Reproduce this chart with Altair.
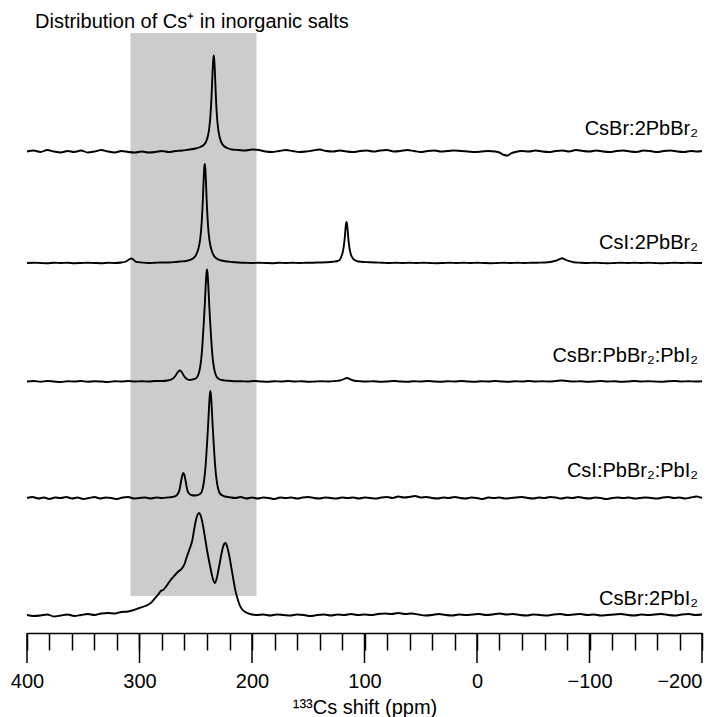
import altair as alt
import pandas as pd

# ---------------- data ----------------
TITLE = "Distribution of Cs⁺ in inorganic salts"
X_TITLE = "¹³³Cs shift (ppm)"
SAMPLES = ["CsBr:2PbBr₂", "CsI:2PbBr₂", "CsBr:PbBr₂:PbI₂", "CsI:PbBr₂:PbI₂", "CsBr:2PbI₂"]
HIGHLIGHT_PPM = [308, 196]          # shaded region (ppm)
X_DOMAIN = [-200, 400]
TICK_VALUES = list(range(-200, 401, 20))
MAJOR_TICKS = [400, 300, 200, 100, 0, -100, -200]

# (ppm, intensity) points of each spectrum
CSBR_2PBBR2 = [(400,0),(394,1),(388,-0.5),(382,1.5),(376,0),(370,-1),(364,0.5),(358,-0.5),(352,1),(346,-1),(340,0),(334,1.5),(328,0),(322,-1),(316,0.5),(310,-0.5),(304,-1),(298,0),(292,-1),(286,-0.5),(280,0.5),(274,-0.5),(268,0.5),(262,1),(256,2),(250,3),(246,4.5),(243,6.5),(241,9.5),(239,16.5),(238,23.5),(237,35),(236,54),(235,81),(234.5,91),(234,96),(233.5,91),(233,80),(232,52),(231,33),(230,22),(229,15.5),(227,8.5),(225,5.5),(222,3.5),(218,2),(212,1.5),(206,1),(200,2),(194,1.5),(188,0),(182,-0.5),(176,0.5),(170,1.5),(164,0.5),(158,-0.5),(152,0),(146,1),(140,2),(134,0.5),(128,0),(122,1),(116,0),(110,-0.5),(104,0.5),(98,1),(92,0),(86,1),(80,1.5),(74,0),(68,0.5),(62,1.5),(56,0.5),(50,-0.5),(44,0.5),(38,1),(32,0),(26,0.5),(20,1),(14,0.5),(8,0),(2,-0.5),(-4,0),(-10,0.5),(-16,0),(-20,-1),(-24,-3.5),(-27,-4),(-30,-2),(-34,-0.5),(-40,0.5),(-46,0),(-52,1),(-58,0),(-64,-0.5),(-70,0.5),(-76,1),(-82,0),(-88,1.5),(-94,0.5),(-100,0),(-106,1),(-112,0),(-118,-0.5),(-124,0.5),(-130,1),(-136,0),(-142,-0.5),(-148,1),(-154,0.5),(-160,-0.5),(-166,0.5),(-172,1),(-178,0),(-184,-0.5),(-190,0.5),(-196,0),(-200,0.5)]

CSI_2PBBR2 = [(400,0),(394,0.3),(388,0),(382,-0.3),(376,0.2),(370,0),(364,0.3),(358,-0.2),(352,0),(346,0.3),(340,0),(334,-0.2),(328,0.2),(322,0),(316,0.5),(312,1.5),(309.5,3.5),(307.5,4.5),(305.5,3.5),(303,1.2),(298,0.5),(292,0),(286,0.3),(280,0.5),(274,0.5),(268,1),(264,1.5),(260,1.8),(255,3.2),(252,5),(250,7.5),(248,13),(247,17.5),(246,24.5),(245,36),(244,55.5),(243.5,68.5),(243,83),(242.5,94.5),(242,99),(241.5,94.5),(241,83),(240.5,68.5),(240,55.5),(239,36),(238,24.5),(237,17.5),(236,13),(234,7.5),(232,5),(229,3.2),(224,1.8),(218,1),(212,0.5),(206,0.2),(200,0),(194,0.3),(188,0),(182,-0.2),(176,0.2),(170,0),(164,0.3),(158,0),(152,0.2),(146,0.3),(140,0.5),(134,0.7),(128,1.2),(124,2),(122,3.2),(120,8.2),(119,12.6),(118,20.5),(117.5,26),(117,33),(116.5,38.5),(116,41),(115.5,38.5),(115,33),(114.5,26),(114,20.5),(113,12.6),(112,8.2),(110,4.1),(107,2),(103,1.2),(96,0.8),(90,0.5),(84,0.3),(78,0),(72,0.2),(66,0),(60,0.3),(54,0),(48,0.2),(42,0),(36,-0.2),(30,0),(24,0.3),(18,0),(12,0.2),(6,0),(0,0.3),(-6,0),(-12,-0.2),(-18,0),(-24,0.2),(-30,0),(-36,0.3),(-42,0),(-48,0.2),(-54,0.3),(-60,0.5),(-65,1),(-69,2),(-72,3.2),(-74,4.2),(-75.5,4.8),(-77,4.2),(-79,3),(-82,1.8),(-86,0.8),(-92,0.3),(-98,0),(-104,0.2),(-110,0),(-116,-0.2),(-122,0),(-128,0.2),(-134,0),(-140,0.3),(-146,0),(-152,0.2),(-158,0),(-164,-0.2),(-170,0),(-176,0.2),(-182,0),(-188,0.2),(-194,0),(-200,0)]

CSBR_PBBR2_PBI2 = [(400,0),(394,0.5),(388,-0.3),(382,0.5),(376,0),(370,-0.5),(364,0.3),(358,0),(352,0.5),(346,-0.3),(340,0.3),(334,0),(328,-0.5),(322,0.3),(316,0),(310,0.5),(304,0),(298,0.3),(292,0),(286,0.5),(280,0.5),(275,1),(271,2.5),(268.5,5),(267,7.5),(265.5,10),(264,11),(262.5,9.5),(261,6.5),(259,3.5),(257,2),(255,1.5),(253,2),(250,3),(248,6),(247,9.5),(246,15),(245,24),(244,38),(243,56),(242,76),(241.5,88),(241,99),(240.5,108),(240,112),(239.5,108),(239,99),(238.5,88),(238,76),(237,56),(236,38),(235,24),(234,15),(233,9.5),(232,6),(230,3),(227,1.5),(222,0.8),(216,0.3),(210,0.3),(204,0),(198,0.5),(192,0),(186,-0.3),(180,0.3),(174,0),(168,0.5),(162,0),(156,0.3),(150,-0.3),(144,0),(138,0.3),(132,0),(126,0.5),(122,1),(119,2),(117,3.2),(115.5,3.5),(114,3),(112,1.8),(109,0.8),(104,0.3),(98,0),(92,0.3),(86,-0.3),(80,0),(74,0.5),(68,0),(62,-0.3),(56,0.3),(50,0),(44,0.5),(38,0),(32,-0.3),(26,0.3),(20,0),(14,0.5),(8,0),(2,-0.3),(-4,0.3),(-10,0),(-16,0.5),(-22,0),(-28,-0.3),(-34,0.3),(-40,0),(-46,0.5),(-52,0),(-58,0.3),(-64,0),(-70,0.5),(-75,1),(-80,0.5),(-86,0),(-92,0.3),(-98,-0.3),(-104,0),(-110,0.5),(-116,0),(-122,0.3),(-128,-0.3),(-134,0),(-140,0.5),(-146,0),(-152,0.3),(-158,0),(-164,-0.3),(-170,0.3),(-176,0.5),(-182,0),(-188,0.3),(-194,0),(-200,0.3)]

CSI_PBBR2_PBI2 = [(400,0),(395,1),(390,-0.5),(385,0.5),(380,-1),(375,0.5),(370,0),(365,1),(360,-0.5),(355,0.5),(350,-1),(345,0),(340,1),(335,-0.5),(330,0.5),(325,0),(320,-1),(315,0.5),(310,1),(305,-0.5),(300,0),(295,0.5),(290,-0.5),(285,0.5),(280,0),(275,0.5),(271,1),(268,1.8),(266,4),(264.5,8),(263.7,12.5),(263,17),(262,22.5),(261,25),(260,22.5),(259,17),(258.3,12.5),(257.5,8),(256,4.5),(254,3),(251,2.5),(249,2.8),(247,3.5),(245,5.5),(244,9),(243,14.5),(242,23),(241,36),(240,53.5),(239,73),(238.5,84),(238,95),(237.5,103),(237,107),(236.5,103),(236,95),(235.5,84),(235,73),(234,53.5),(233,36),(232,23),(231,14.5),(230,9),(229,5.5),(227,3),(224,1.5),(220,0.8),(215,0),(210,1),(205,-0.5),(200,0.5),(195,-0.5),(190,0.5),(185,0),(180,-1),(175,0.5),(170,0),(165,0.5),(160,-0.5),(155,0.5),(150,1),(145,0),(140,-0.5),(135,0.5),(130,0),(125,-0.5),(120,0.5),(115,0),(110,0.5),(105,-0.5),(100,0.5),(95,0),(90,-0.5),(85,0.5),(80,1),(75,0),(70,1.5),(65,0.5),(60,1),(55,2),(50,0.5),(45,1),(40,0),(35,-0.5),(30,0.5),(25,0),(20,1),(15,0),(10,-0.5),(5,0.5),(0,0),(-5,-1),(-10,0.5),(-15,0),(-20,0.5),(-25,-0.5),(-30,0),(-35,0.5),(-40,1),(-45,0),(-50,-0.5),(-55,0.5),(-60,0),(-65,1),(-70,0.5),(-75,-0.5),(-80,0.5),(-85,0),(-90,1),(-95,0),(-100,-0.5),(-105,0.5),(-110,0),(-115,-1),(-120,0),(-125,0.5),(-130,0),(-135,0.5),(-140,-0.5),(-145,0),(-150,0.5),(-155,0),(-160,-0.5),(-165,0.5),(-170,1),(-175,0),(-180,0.5),(-185,-0.5),(-190,0.5),(-195,1.5),(-200,0)]

CSBR_2PBI2 = [(400,0),(394,-1),(388,-0.5),(382,0.5),(376,-1.5),(370,-0.5),(364,0.5),(358,-1),(352,0),(346,1),(340,0),(334,1.5),(328,2),(322,1.5),(316,3),(310,3.5),(305,5),(300,7),(295,9),(290,12),(286,17),(283,21),(281,24),(279,25),(276,29),(273,34),(270,38),(266,43),(262,47),(260,51),(258,58),(255.5,66),(253,75),(251.5,85),(250,94),(248.5,100),(247,102),(245.5,99),(244,92),(242,79),(240,65),(238,53),(236,42),(234.5,35),(233,32),(231.5,36),(230,44),(228,56),(226,67),(224.5,71.5),(223.5,72),(222,68),(220,58),(218,45),(216,32),(214.5,23),(213,17),(211,10),(209,6),(206,3),(203,1.5),(200,0.5),(196,0),(190,0.5),(184,-0.5),(178,0.5),(172,0),(166,-0.5),(160,0.5),(154,0),(148,-1),(142,0),(136,0.5),(130,-0.5),(124,0.5),(118,0),(112,1),(106,0),(100,0.5),(94,0),(88,1),(82,1.5),(76,1),(70,2),(64,1),(58,1.5),(52,0.5),(46,-0.5),(40,0),(34,1),(28,0),(22,-0.5),(16,0.5),(10,0),(4,0.5),(-2,1),(-8,0),(-14,0.5),(-20,1.5),(-26,0.5),(-32,1),(-38,0),(-44,-0.5),(-50,0.5),(-56,0),(-62,-0.5),(-68,0.5),(-74,1),(-80,0),(-86,0.5),(-92,1),(-98,0),(-104,0.5),(-110,-0.5),(-116,0),(-122,0.5),(-128,1),(-134,0),(-140,-0.5),(-146,0.5),(-152,0),(-158,0.5),(-164,1),(-170,0),(-176,-0.5),(-182,0.5),(-188,1),(-194,0),(-200,0.5)]

TRACES = [CSBR_2PBBR2, CSI_2PBBR2, CSBR_PBBR2_PBI2, CSI_PBBR2_PBI2, CSBR_2PBI2]

# ---------------- layout (stack offsets, label lift) ----------------
OFFSETS = [481.5, 370, 251.5, 135, 18]
LABEL_LIFT = [17, 14, 20, 21, 10]
FONT = "Liberation Sans"
PLOT_W, PLOT_H = 675, 600
MINOR_TICK, MAJOR_TICK = 17, 30

rows = []
for name, pts, off in zip(SAMPLES, TRACES, OFFSETS):
    for i, (p, v) in enumerate(pts):
        rows.append({"sample": name, "ppm": p, "y": off + v, "i": i})
spec_df = pd.DataFrame(rows)

label_df = pd.DataFrame({
    "sample": SAMPLES,
    "ppm": [X_DOMAIN[0]] * len(SAMPLES),
    "y": [o + l for o, l in zip(OFFSETS, LABEL_LIFT)],
})
band_df = pd.DataFrame({"lo": [HIGHLIGHT_PPM[0]], "hi": [HIGHLIGHT_PPM[1]]})
major_df = pd.DataFrame({"ppm": MAJOR_TICKS})

xs = alt.Scale(domain=X_DOMAIN, reverse=True, nice=False, zero=False)
ys = alt.Scale(domain=[0, PLOT_H], nice=False, zero=False)

x_axis = alt.Axis(
    values=TICK_VALUES,
    title=X_TITLE,
    labelExpr="datum.value % 100 === 0 ? replace(format(datum.value, 'd'), '-', '\u2212') : ''",
    labelAlign={"condition": {"test": f"datum.value === {X_DOMAIN[0]}", "value": "right"}, "value": "center"},
    tickSize=MINOR_TICK,
    tickColor="black", tickWidth=1.5,
    domainColor="black", domainWidth=1.5,
    labelFont=FONT, labelFontSize=20, labelColor="black",
    labelPadding=MAJOR_TICK - MINOR_TICK + 8, labelOverlap=False, labelFlush=False,
    titleFont=FONT, titleFontSize=20, titleFontWeight="normal", titleColor="black",
    titlePadding=6, grid=False,
)

band = alt.Chart(band_df).mark_rect(color="#cccccc").encode(
    x=alt.X("lo:Q", scale=xs, axis=x_axis),
    x2="hi:Q",
    y=alt.value(0),
    y2=alt.value(563),
)

lines = alt.Chart(spec_df).mark_line(color="black", strokeWidth=1.9, interpolate="monotone").encode(
    x=alt.X("ppm:Q", scale=xs, axis=x_axis),
    y=alt.Y("y:Q", scale=ys, axis=None),
    detail="sample:N",
    order="i:Q",
)

major_ticks = alt.Chart(major_df).mark_rule(color="black", strokeWidth=1.5).encode(
    x=alt.X("ppm:Q", scale=xs, axis=x_axis),
    y=alt.value(PLOT_H),
    y2=alt.value(PLOT_H + MAJOR_TICK),
)

labels = alt.Chart(label_df).mark_text(
    align="right", baseline="alphabetic", dx=-4, font=FONT, fontSize=20, color="black"
).encode(
    x=alt.X("ppm:Q", scale=xs, axis=x_axis),
    y=alt.Y("y:Q", scale=ys, axis=None),
    text="sample:N",
)

chart = alt.layer(band, lines, major_ticks, labels).properties(
    width=PLOT_W,
    height=PLOT_H,
    title=alt.TitleParams(
        text=TITLE, anchor="start", frame="group", font=FONT, fontSize=20, fontWeight="normal",
        color="black", dx=8, offset=1,
    ),
    padding={"left": 19, "top": 25, "right": 10, "bottom": 88},
    autosize=alt.AutoSizeParams(type="none"),
).configure_view(stroke=None)

chart.save("out.html", embed_options={"renderer": "svg", "actions": False})
